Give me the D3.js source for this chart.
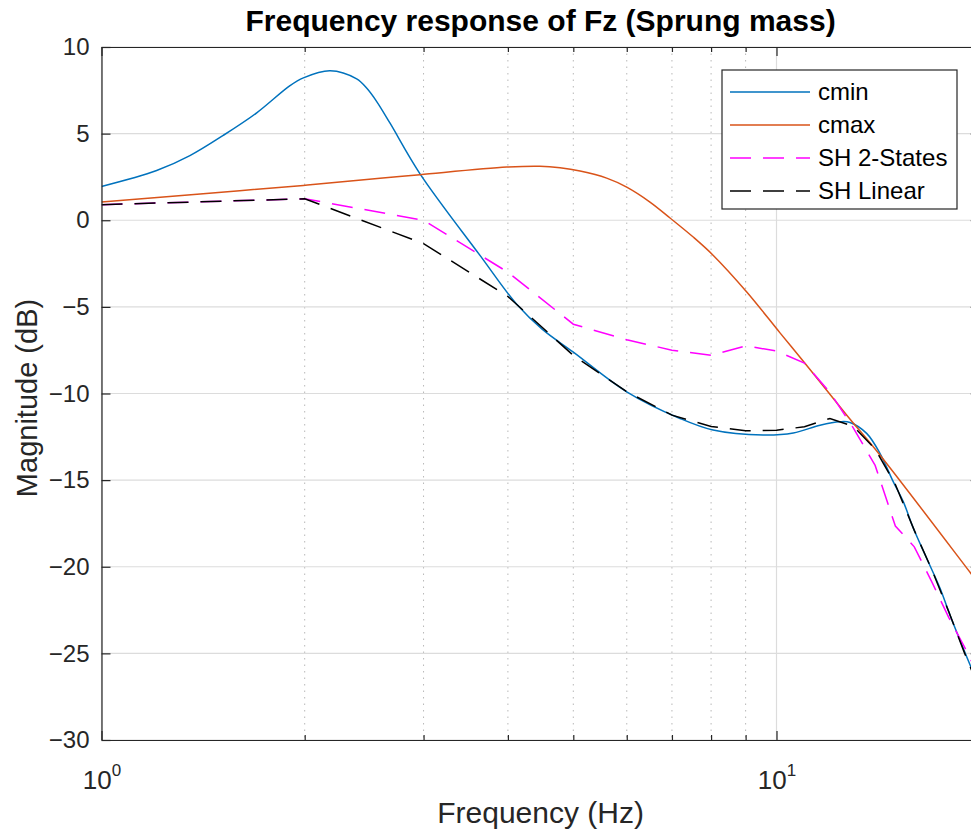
<!DOCTYPE html>
<html>
<head>
<meta charset="utf-8">
<script src="https://cdn.jsdelivr.net/npm/d3@7"></script>
<style>
  body { margin: 0; background: #fff; }
  svg { display: block; font-family: "Liberation Sans", Arial, sans-serif; }
</style>
</head>
<body>
<svg id="chart" width="971" height="834"></svg>
<script>
// values
var cminFreq = [1.0, 1.207, 1.352, 1.515, 1.698, 1.902, 1.991, 2.181, 2.388, 2.474, 2.557, 2.676, 2.964, 3.637, 4.122, 4.5, 4.995, 5.999, 7.195, 8.054, 9.55, 10.59, 11.6, 12.42, 12.85, 13.6, 14.23, 14.89, 15.41, 15.95, 16.69, 17.47, 18.07, 19.35, 20];
var cminMag  = [1.95, 2.87, 3.73, 4.9, 6.2, 7.77, 8.22, 8.63, 8.16, 7.6, 6.85, 5.6, 2.68, -2.03, -4.85, -6.3, -7.6, -9.90, -11.44, -12.11, -12.4, -12.28, -11.83, -11.63, -11.67, -12.3, -13.45, -15.09, -16.24, -17.78, -19.51, -21.24, -22.78, -25.66, -27.0];

var cmaxFreq = [1.0, 1.4, 1.991, 2.586, 2.964, 3.984, 4.463, 4.779, 5.117, 5.603, 5.999, 6.494, 6.955, 7.527, 8.061, 9.035, 10.12, 11.08, 12.71, 14.23, 19.42, 20];
var cmaxMag  = [1.05, 1.52, 2.01, 2.42, 2.63, 3.07, 3.12, 3.03, 2.84, 2.43, 1.91, 1.05, 0.13, -0.97, -2.03, -4.14, -6.5, -8.37, -11.25, -13.55, -20.4, -21.05];

var shFreq    = [1, 2, 3, 4, 5, 6, 7, 8, 9, 10, 11, 12, 13, 14, 15, 16, 17, 18, 19, 20];
var sh2States = [0.9, 1.24, 0.0, -3.0, -6.0, -6.9, -7.5, -7.8, -7.25, -7.55, -8.25, -9.93, -12.0, -14.15, -17.65, -18.85, -20.9, -22.94, -24.65, -26.4];
var shLinear  = [0.9, 1.24, -1.35, -4.4, -7.8, -9.9, -11.25, -11.9, -12.15, -12.12, -11.92, -11.44, -11.9, -13.2, -15.25, -17.9, -20.2, -22.6, -25.0, -27.1];

var yTicks = [10, 5, 0, -5, -10, -15, -20, -25, -30];
var xMajor = [1, 10];
var xMinor = [2, 3, 4, 5, 6, 7, 8, 9];
var legendNames = ["cmin", "cmax", "SH 2-States", "SH Linear"];

// plot box (note: "top" is taken by window.top, so prefixed names)
var pLeft = 101.5, pRight = 979.7, pTop = 47, pBottom = 740;
var axisColor = "#262626";

var svg = d3.select("#chart");

var x = d3.scaleLog().domain([1, 20]).range([pLeft, pRight]);
var y = d3.scaleLinear().domain([-30, 10]).range([pBottom, pTop]);

function pairs(fs, ms) {
  return fs.map(function(f, i) { return [f, ms[i]]; });
}

var smooth = d3.curveCatmullRom.alpha(0.5);
var series = [
  { name: legendNames[0], pts: pairs(cminFreq, cminMag), color: "#0072BD", dash: null, curve: smooth },
  { name: legendNames[1], pts: pairs(cmaxFreq, cmaxMag), color: "#D95319", dash: null, curve: smooth },
  { name: legendNames[2], pts: pairs(shFreq, sh2States), color: "#FF00FF", dash: "21,12", curve: d3.curveLinear },
  { name: legendNames[3], pts: pairs(shFreq, shLinear), color: "#000000", dash: "21,12", curve: d3.curveLinear }
];

svg.append("defs").append("clipPath").attr("id", "plotclip")
  .append("rect")
  .attr("x", pLeft).attr("y", pTop)
  .attr("width", pRight - pLeft).attr("height", pBottom - pTop);

// grid
var grid = svg.append("g");
grid.selectAll("line.minor").data(xMinor).enter().append("line")
  .attr("class", "minor")
  .attr("x1", function(d) { return x(d); })
  .attr("x2", function(d) { return x(d); })
  .attr("y1", pTop).attr("y2", pBottom)
  .attr("stroke", "#b8b8b8")
  .attr("stroke-width", 1)
  .style("stroke-dasharray", "1.5,5");

grid.selectAll("line.xmaj").data(xMajor).enter().append("line")
  .attr("class", "xmaj")
  .attr("x1", function(d) { return x(d); })
  .attr("x2", function(d) { return x(d); })
  .attr("y1", pTop).attr("y2", pBottom)
  .attr("stroke", "#dcdcdc")
  .attr("stroke-width", 1.2);

grid.selectAll("line.ymaj").data(yTicks).enter().append("line")
  .attr("class", "ymaj")
  .attr("x1", pLeft).attr("x2", pRight)
  .attr("y1", function(d) { return y(d); })
  .attr("y2", function(d) { return y(d); })
  .attr("stroke", "#dcdcdc")
  .attr("stroke-width", 1.2);

// curves
var plot = svg.append("g").attr("clip-path", "url(#plotclip)");
series.forEach(function(s) {
  var line = d3.line()
    .x(function(d) { return x(d[0]); })
    .y(function(d) { return y(d[1]); })
    .curve(s.curve);
  plot.append("path")
    .datum(s.pts)
    .attr("d", line)
    .attr("fill", "none")
    .attr("stroke", s.color)
    .attr("stroke-width", 1.5)
    .style("stroke-dasharray", s.dash);
});

// axes, ticks pointing in
function styleAxis(g) {
  g.selectAll("path.domain").attr("stroke", axisColor).attr("stroke-width", 1.2);
  g.selectAll(".tick line").attr("stroke", axisColor).attr("stroke-width", 1.2);
  g.selectAll("text").attr("fill", axisColor);
}

var yAxis = svg.append("g")
  .attr("transform", "translate(" + pLeft + ",0)")
  .call(d3.axisLeft(y).tickValues(yTicks).tickSizeInner(-9).tickSizeOuter(0).tickPadding(12)
    .tickFormat(d3.format("d")));
yAxis.selectAll("text").style("font-size", "24px");
styleAxis(yAxis);

var yAxisR = svg.append("g")
  .attr("transform", "translate(" + pRight + ",0)")
  .call(d3.axisRight(y).tickValues(yTicks).tickSizeInner(-9).tickSizeOuter(0).tickFormat(""));
styleAxis(yAxisR);

var xAxis = svg.append("g")
  .attr("transform", "translate(0," + pBottom + ")")
  .call(d3.axisBottom(x).tickValues(xMajor).tickSizeInner(-9).tickSizeOuter(0).tickPadding(0)
    .tickFormat(function() { return ""; }));
styleAxis(xAxis);
xAxis.selectAll(".tick text")
  .attr("y", 49)
  .attr("dy", null)
  .style("font-size", "26px")
  .each(function(d) {
    var t = d3.select(this);
    t.text("10");
    t.append("tspan").text(Math.round(Math.log10(d)))
      .attr("dy", -13).style("font-size", "17px");
  });

var xMinorB = svg.append("g")
  .attr("transform", "translate(0," + pBottom + ")")
  .call(d3.axisBottom(x).tickValues(xMinor).tickSizeInner(-5).tickSizeOuter(0).tickFormat(""));
styleAxis(xMinorB);
xMinorB.select("path.domain").remove();

var xAxisT = svg.append("g")
  .attr("transform", "translate(0," + pTop + ")")
  .call(d3.axisTop(x).tickValues(xMajor).tickSizeInner(-9).tickSizeOuter(0).tickFormat(""));
styleAxis(xAxisT);

var xMinorT = svg.append("g")
  .attr("transform", "translate(0," + pTop + ")")
  .call(d3.axisTop(x).tickValues(xMinor).tickSizeInner(-5).tickSizeOuter(0).tickFormat(""));
styleAxis(xMinorT);
xMinorT.select("path.domain").remove();

// labels
svg.append("text")
  .attr("x", (pLeft + pRight) / 2).attr("y", 31)
  .attr("text-anchor", "middle")
  .style("font-size", "30px").style("font-weight", "bold")
  .attr("fill", "#000")
  .text("Frequency response of Fz (Sprung mass)");

svg.append("text")
  .attr("x", (pLeft + pRight) / 2).attr("y", 823)
  .attr("text-anchor", "middle")
  .style("font-size", "30px")
  .attr("fill", axisColor)
  .text("Frequency (Hz)");

svg.append("text")
  .attr("transform", "translate(37,398) rotate(-90)")
  .attr("text-anchor", "middle")
  .style("font-size", "29px")
  .attr("fill", axisColor)
  .text("Magnitude (dB)");

// legend
var lg = svg.append("g");
lg.append("rect")
  .attr("x", 722).attr("y", 70).attr("width", 235).attr("height", 139)
  .attr("fill", "#fff").attr("stroke", axisColor).attr("stroke-width", 1.2);

var rows = lg.selectAll("g.row").data(series).enter().append("g")
  .attr("class", "row")
  .attr("transform", function(d, i) { return "translate(0," + (92 + i * 33) + ")"; });
rows.append("line")
  .attr("x1", 730).attr("x2", 810).attr("y1", 0).attr("y2", 0)
  .attr("stroke", function(d) { return d.color; })
  .attr("stroke-width", 1.5)
  .style("stroke-dasharray", function(d) { return d.dash; });
rows.append("text")
  .attr("x", 818).attr("y", 0).attr("dy", "0.35em")
  .style("font-size", "24px")
  .attr("fill", "#000")
  .text(function(d) { return d.name; });
</script>
</body>
</html>
